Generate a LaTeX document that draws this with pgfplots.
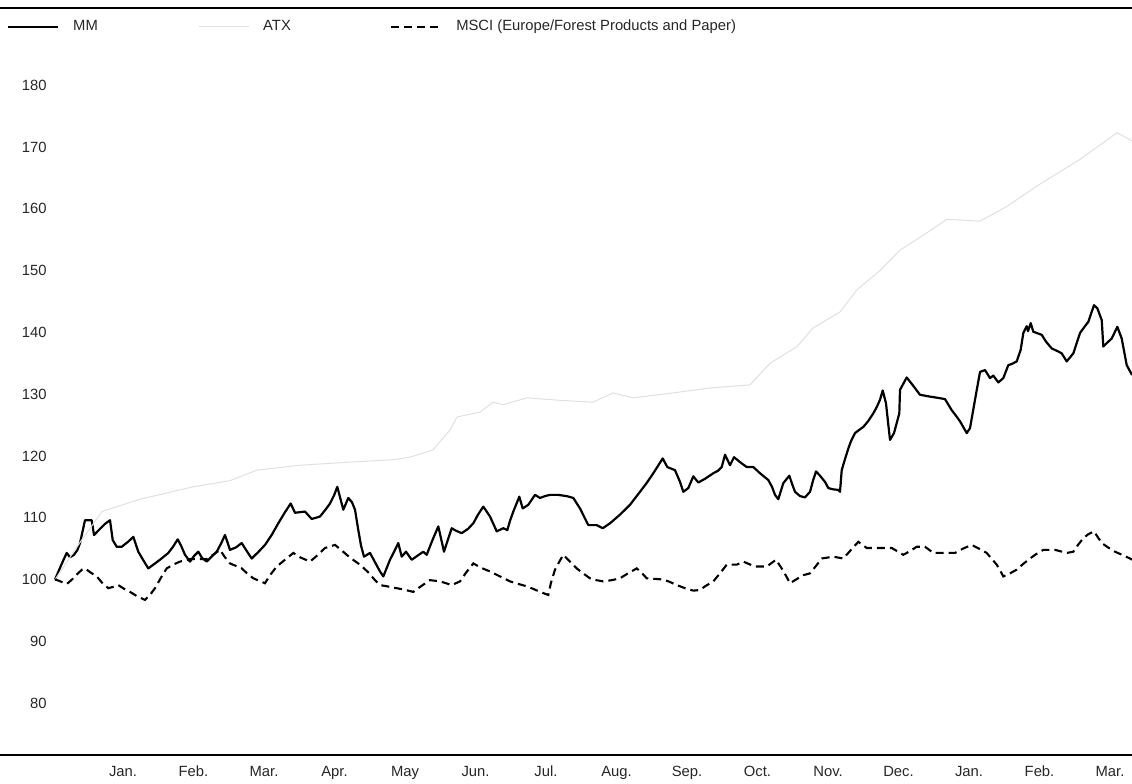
\documentclass[border=0pt]{standalone}
\usepackage{fontspec}
\setmainfont{Liberation Sans}
\usepackage{pgfplots}
\pgfplotsset{compat=1.18}
\begin{document}
\begin{tikzpicture}[font=\fontsize{7.4pt}{9pt}\selectfont]
\begin{axis}[
  name=ax,
  scale only axis,
  width=566pt, height=373.5pt,
  xmin=0, xmax=1132, ymin=71.6, ymax=192.5,
  axis line style={draw=none},
  tick style={draw=none},
  /pgf/number format/assume math mode=true,
  ytick={80,90,100,110,120,130,140,150,160,170,180},
  yticklabel style={anchor=east, inner sep=0pt, xshift=23.5pt, text=black!85},
  xtick={123,193.5,264,334.5,405,475.5,546,616.5,687,757.5,828,898.5,969,1039.5,1110},
  xticklabels={Jan.,Feb.,Mar.,Apr.,May,Jun.,Jul.,Aug.,Sep.,Oct.,Nov.,Dec.,Jan.,Feb.,Mar.},
  xticklabel style={anchor=base, inner sep=0pt, yshift=-11pt, text=black!85},
  legend columns=3,
  legend image code/.code={\draw[#1] (0pt,0pt) -- (25pt,0pt);},
  legend style={at={(axis description cs:0.00618,0.9746)}, anchor=west,
    draw=none, fill=none, inner sep=0pt, outer sep=0pt,
    nodes={inner sep=0pt, text=black!85},
    /tikz/every odd column/.append style={column sep=7pt}},
]
% MM
\addplot[black, line width=1.1pt, line join=round] coordinates {
(55,100) (59,101.5) (63,103) (66.7,104.3) (70,103.6) (74,104) (77.5,104.8) (80,105.9)
(85,109.6) (91.7,109.6) (94,107.2) (100,108.2) (105,109) (110,109.6) (112.7,106.4)
(116.7,105.3) (121.7,105.3) (128,106.1) (133.3,106.9) (138.3,104.5) (143,103.2)
(148.3,101.8) (155,102.6) (160,103.2) (168.3,104.3) (173,105.3) (177.7,106.5)
(181,105.5) (185,104) (190,102.9) (194,103.8) (198.3,104.5) (202,103.5) (206.7,102.9)
(211,103.6) (216.7,104.5) (221,105.8) (225,107.2) (230,104.8) (236,105.2) (241.7,105.9)
(246,104.8) (251.7,103.4) (258,104.4) (265,105.6) (272,107.3) (278.3,109.1) (285,110.9)
(290.7,112.3) (295,110.8) (300,110.9) (305,111) (311.7,109.8) (316,110) (320,110.2)
(325,111.2) (330,112.3) (334,113.6) (337.3,115) (343.3,111.3) (348.3,113.2) (352,112.5)
(355,111.3) (358.3,108) (361,105.5) (364,103.7) (370,104.3) (375,102.8) (380,101.3)
(383.3,100.5) (390,103.2) (395,104.8) (398.3,105.9) (401.7,103.7) (406,104.5)
(411.7,103.2) (417,103.8) (423.3,104.5) (426.7,104) (432,106.2) (438.3,108.6) (444,104.5)
(448,106.5) (451.7,108.3) (456,107.9) (461.7,107.5) (468,108.2) (473.3,109.1) (478,110.5)
(483.3,111.8) (490,110.2) (496.7,107.8) (503.3,108.3) (507.3,108) (510,109.5) (513.3,111)
(519.3,113.4) (522.7,111.5) (528.3,112.1) (535,113.7) (540,113.2) (545,113.5) (550,113.7)
(558,113.7) (566.7,113.5) (573.3,113.2) (580,111.5) (584,110.2) (588.3,108.8)
(596.7,108.8) (602.7,108.3) (610,109.1) (615,109.8) (620,110.5) (630,112.1) (640,114.2)
(647,115.7) (653.3,117.2) (658,118.4) (662.7,119.6) (667.3,118.2) (675,117.7) (680,115.8)
(683.3,114.2) (688.3,114.8) (693.3,116.7) (698.3,115.7) (705,116.3) (713.3,117.2)
(718,117.6) (721.7,118.2) (725,120.2) (730,118.5) (734,119.8) (740,119) (746.7,118.2)
(753.3,118.2) (760,117.2) (768.3,116.1) (772,115) (775,113.7) (778.3,113) (783.3,115.6)
(789.3,116.8) (792,115.5) (795,114.2) (800,113.5) (805,113.3) (810,114.2) (813,116)
(816,117.5) (820,116.8) (825,115.8) (828.3,114.8) (833,114.6) (838.3,114.5) (840,114.2)
(841.7,117.7) (845,119.5) (848.3,121.2) (851,122.4) (855,123.7) (859,124.2) (863.3,124.7)
(868,125.6) (873.3,126.9) (877,128) (880,129.1) (882.7,130.6) (886,128.5) (888,125.5)
(890,122.6) (894,123.7) (897,125.5) (899.3,126.9) (900,130.7) (903,131.6) (906.7,132.7)
(913,131.4) (920,129.9) (930,129.6) (938,129.4) (945,129.2) (951.7,127.4) (956,126.5)
(960,125.6) (966.7,123.7) (970,124.5) (975,129.1) (980,133.6) (985,133.9) (990,132.6)
(993.3,133) (998.3,131.9) (1003.3,132.6) (1008.3,134.7) (1012,134.9) (1016.7,135.3)
(1020.7,137.2) (1023.3,139.9) (1026.7,141) (1028,140.2) (1030.7,141.5) (1033.3,140.1)
(1041.7,139.6) (1046,138.5) (1051.7,137.4) (1058.3,136.9) (1061.7,136.6) (1066.7,135.3)
(1073.3,136.6) (1080,139.9) (1084,140.8) (1088.3,141.7) (1091,143) (1094,144.4)
(1097.3,143.9) (1101.7,142) (1103.3,137.7) (1107,138.3) (1111.7,139) (1117.3,140.9)
(1121.7,139) (1124,137) (1126.7,134.7) (1132,133.1)
};
\addlegendentry{\makebox[62.5pt][l]{MM}}
% ATX (very faint in the original)
\addplot[black!12, line width=0.5pt] coordinates {
(55,100) (80,106) (102,111) (140,113) (193,115) (230,116) (257,117.7) (300,118.5)
(350,119) (394,119.4) (410,119.8) (433,121) (450,124.2) (457,126.3) (480,127.1)
(493,128.7) (503,128.3) (527,129.4) (560,129) (593,128.7) (613,130.2) (633,129.4)
(673,130.2) (710,131) (750,131.5) (770,135) (797,137.7) (813,140.7) (840,143.3)
(857,146.9) (880,150) (900,153.3) (923,155.7) (947,158.3) (980,158) (1006,160.3)
(1040,164) (1080,168) (1117,172.3) (1132,171)
};
\addlegendentry{\makebox[63.5pt][l]{ATX}}
% MSCI
\addplot[black, line width=1.05pt, dash pattern=on 4pt off 2.5pt] coordinates {
(55,100) (59,99.8) (63,99.5) (67,99.3) (72,100) (78,101) (82,101.6) (85,101.8) (90,101.2)
(96.7,100.5) (102,99.5) (108.3,98.6) (113,98.8) (118.3,99.1) (124,98.5) (130,98)
(137,97.3) (145,96.7) (150,97.5) (155,98.6) (161,100.3) (166.7,101.8) (173,102.4)
(180,102.9) (190,103.3) (198,103.3) (206.7,103.3) (213,104) (220,104.8) (225,103.6)
(230,102.6) (236,102.2) (241.7,101.8) (247,101) (253.3,100.2) (259,99.8) (265,99.4)
(270,100.7) (276.7,102.1) (285,103.2) (293.3,104.3) (300,103.6) (310,102.9) (318,104)
(325,105.1) (335,105.6) (341,104.8) (346.7,104) (353,103.2) (360,102.4) (368,101.2)
(375,99.9) (380,99.1) (387,98.9) (393.3,98.7) (403,98.4) (413.3,98) (420,98.8) (430,99.9)
(440,99.7) (446,99.4) (451.7,99.1) (460,99.7) (466,101.1) (473.3,102.6) (481,101.9)
(490,101.3) (500,100.5) (510,99.7) (518,99.3) (526.7,98.9) (533,98.5) (540,98)
(548.3,97.5) (551,99.5) (555,101.6) (559,102.8) (563.3,104) (570,102.9) (576.7,101.8)
(583,101) (590,100.2) (596,99.9) (603.3,99.7) (612,99.9) (620,100.2) (628,101)
(636.7,101.8) (641,101.2) (646.7,100.2) (655,100.1) (663.3,100) (670,99.6) (676.7,99.1)
(685,98.6) (693.3,98.2) (700,98.3) (705,98.9) (713.3,99.7) (720,101) (726.7,102.4)
(736.7,102.4) (743.3,102.9) (749,102.5) (755,102.1) (766.7,102.1) (776,103.2)
(781.7,101.8) (786,100.6) (790,99.4) (797,100.1) (803.3,100.7) (810,101) (816,102.2)
(821.7,103.4) (833.3,103.7) (843.3,103.4) (851,104.8) (858.3,106.1) (866.7,105.1)
(875,105.1) (883.3,105.1) (891.7,105.1) (897,104.6) (903.3,104) (910,104.6) (916.7,105.3)
(925,105.3) (933.3,104.3) (944,104.3) (955,104.3) (963,105) (971.7,105.6) (979,105)
(986.7,104.3) (992,103.3) (996.7,102.4) (1000,101.5) (1003.3,100.5) (1010,101)
(1016.7,101.6) (1023,102.5) (1030,103.4) (1036,104.1) (1043.3,104.8) (1055,104.8)
(1066.7,104.3) (1073.3,104.5) (1078,105.6) (1083.3,106.7) (1088,107.3) (1094,107.8)
(1098,106.8) (1101.7,105.9) (1108,105.2) (1115,104.5) (1122,104) (1130,103.4) (1132,103.2)
};
\addlegendentry{MSCI (Europe/Forest Products and Paper)}
\end{axis}
\draw[line width=1.2pt] (ax.north west) -- (ax.north east);
\draw[line width=0.9pt] (ax.south west) -- (ax.south east);
\pgfresetboundingbox
\useasboundingbox ([yshift=-14.5pt]ax.south west) rectangle ([yshift=4pt]ax.north east);
\end{tikzpicture}
\end{document}
